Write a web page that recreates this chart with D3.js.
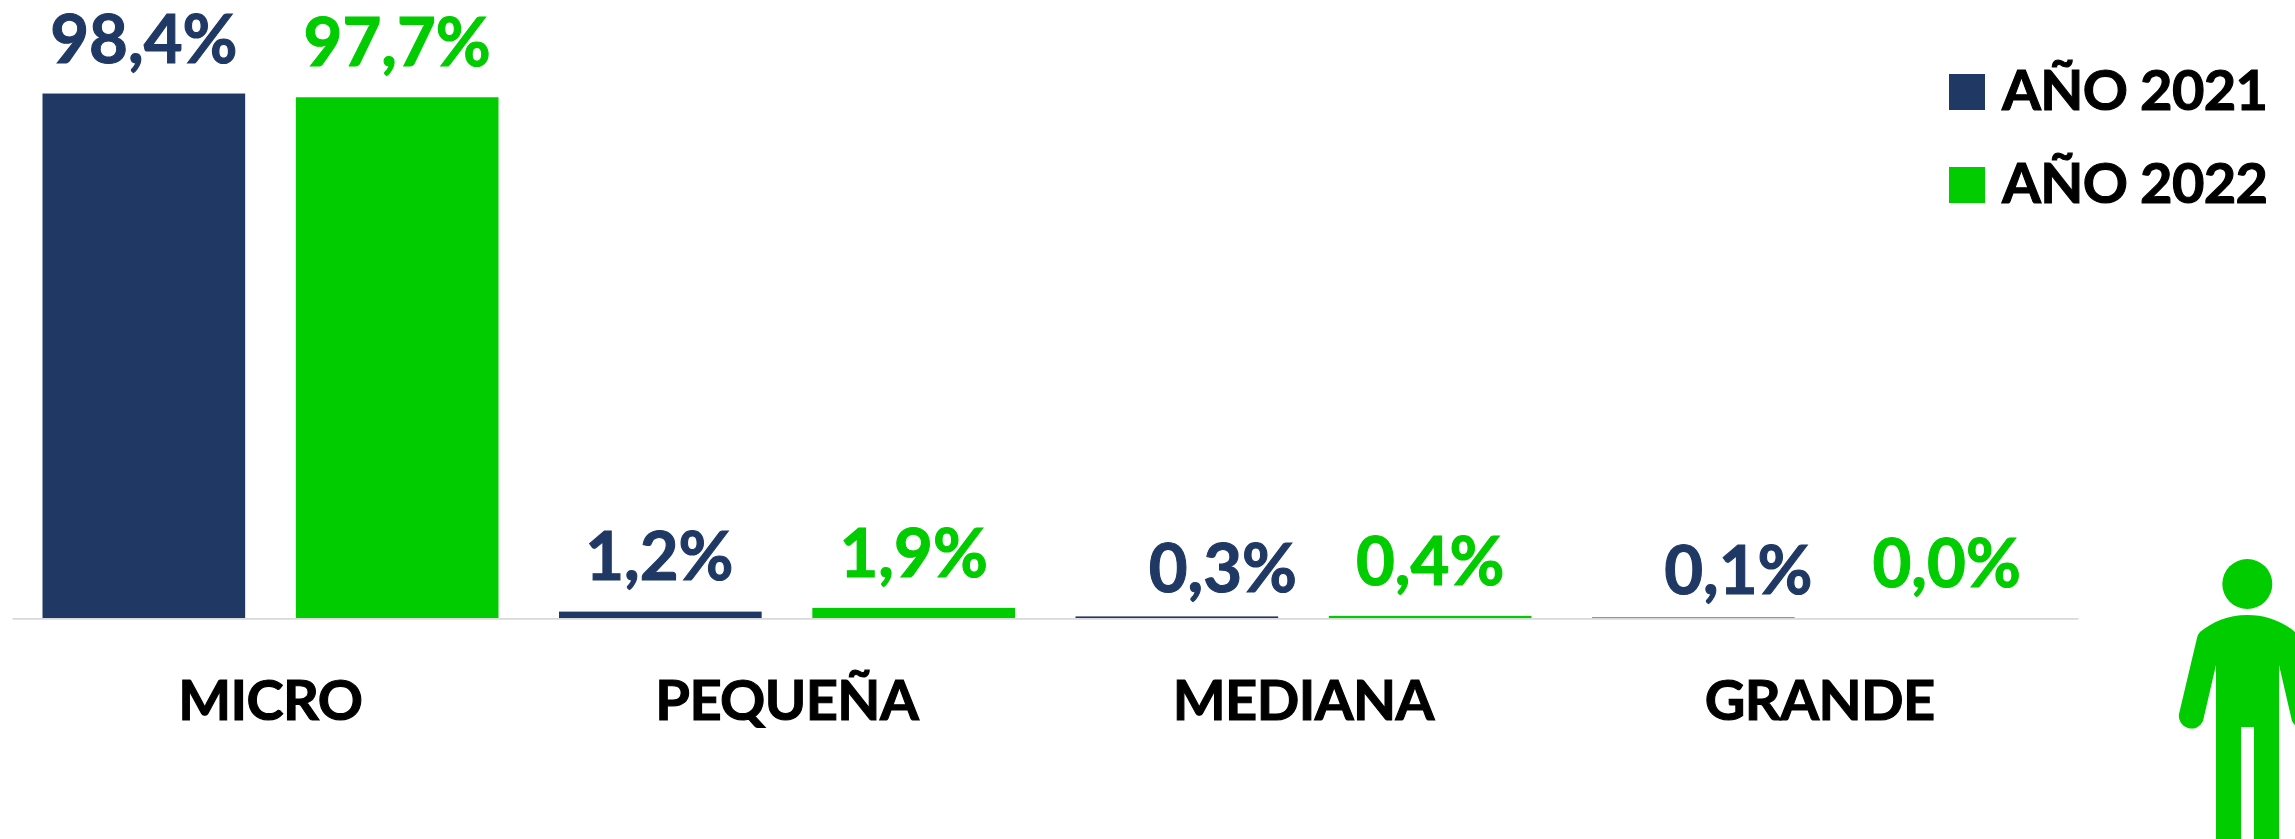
<!DOCTYPE html>
<html lang="es">
<head>
<meta charset="utf-8">
<script src="https://cdn.jsdelivr.net/npm/d3@7/dist/d3.min.js"></script>
<style>
html,body{margin:0;padding:0;background:#fff;}
svg{display:block;}
text{font-family:Lato,"Open Sans",sans-serif;font-weight:700;stroke-width:1.1px;paint-order:stroke;}
</style>
</head>
<body>
<svg id="chart" width="2295" height="839"></svg>
<script>
const categories = ["MICRO", "PEQUEÑA", "MEDIANA", "GRANDE"];
const seriesNames = ["AÑO 2021", "AÑO 2022"];
const values2021 = [98.4, 1.2, 0.3, 0.1];
const values2022 = [97.7, 1.9, 0.4, 0.0];
const seriesColors = ["#1F3864", "#00CC00"];

// Hand-placed label nudges of the original, [dx, baseline gap above the bar top]
const labelNudge2021 = [[0, 31], [-1, 32], [46, 24], [45, 23]];
const labelNudge2022 = [[0, 31], [0, 31], [0, 31], [0, 31]];

const svg = d3.select("#chart");
const baseY = 618;
const x0 = d3.scaleBand().domain(categories).range([12, 2078]).paddingInner(0).paddingOuter(0);
const x1 = d3.scaleBand().domain(seriesNames).range([30.5, 486.5]).paddingInner(0.2);
const y = d3.scaleLinear().domain([0, 100]).range([baseY, baseY - 533]);

const series = [values2021, values2022];
const nudges = [labelNudge2021, labelNudge2022];

seriesNames.forEach((name, s) => {
  const rows = categories.map((c, i) => ({c, v: series[s][i], n: nudges[s][i]}));
  svg.append("g").selectAll("rect").data(rows).join("rect")
    .attr("x", d => x0(d.c) + x1(name))
    .attr("width", x1.bandwidth())
    .attr("y", d => y(d.v))
    .attr("height", d => baseY - y(d.v))
    .attr("fill", seriesColors[s]);
  svg.append("g").selectAll("text").data(rows).join("text")
    .attr("x", d => x0(d.c) + x1(name) + x1.bandwidth() / 2 + d.n[0])
    .attr("y", d => y(d.v) - d.n[1])
    .attr("text-anchor", "middle")
    .attr("font-size", 67)
    .attr("fill", seriesColors[s])
    .attr("stroke", seriesColors[s])
    .text(d => d.v.toFixed(1).replace(".", ",") + "%");
});

const axis = d3.axisBottom(x0).tickSize(0).tickPadding(0);
const ax = svg.append("g").attr("transform", `translate(0,${baseY + 0.4})`).call(axis);
ax.select(".domain").attr("stroke", "#D9D9D9").attr("stroke-width", 1.6);
ax.selectAll("text").attr("font-size", 56).attr("fill", "#000").attr("stroke", "#000")
  .attr("font-family", "Lato").attr("y", 0).attr("dy", 0).attr("letter-spacing", -0.6)
  .attr("transform", `translate(0,${720 - baseY - 0.4})`);

const leg = svg.append("g").selectAll("g").data(seriesNames).join("g")
  .attr("transform", (d, i) => `translate(1949,${74 + i * 93})`);
leg.append("rect").attr("width", 36).attr("height", 36).attr("fill", (d, i) => seriesColors[i]);
leg.append("text").attr("x", 53).attr("y", 36).attr("font-size", 56).attr("fill", "#000").attr("stroke", "#000")
  .attr("letter-spacing", -0.7).text(d => d);

// Person pictogram, cropped by the right edge
const person = svg.append("g").attr("fill", "#00CC00");
person.append("circle").attr("cx", 2247.3).attr("cy", 584).attr("r", 25);
person.append("path").attr("d",
  "M2247.3 615 C2228 615 2212 622 2200 632 Q2198 634 2197 638 L2179 714 " +
  "A12.6 12.6 0 0 0 2203 721 L2216 665 L2216 839 L2241 839 L2241 727 L2254 727 L2254 839 L2279 839 L2279 665 " +
  "L2292 721 A12.6 12.6 0 0 0 2316 714 L2298 638 Q2297 634 2295 632 C2283 622 2267 615 2247.3 615 Z");
</script>
</body>
</html>
